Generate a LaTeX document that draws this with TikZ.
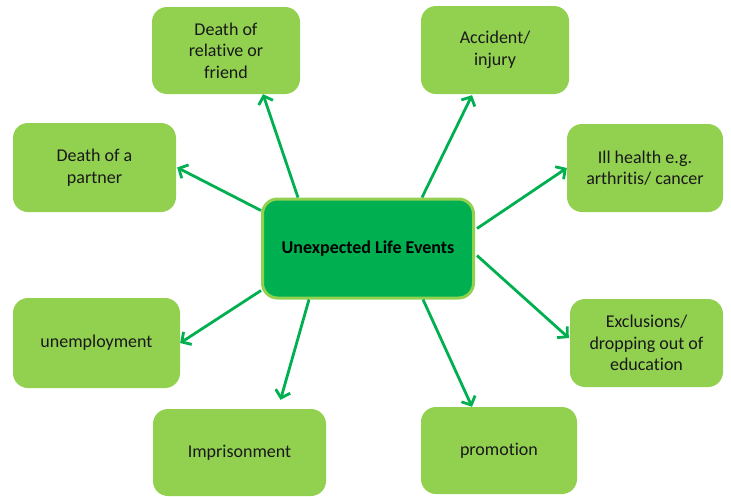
\documentclass[tikz,border=0pt]{standalone}
\usepackage{fontspec}
\setmainfont{Carlito}[Ligatures=NoCommon]
\usetikzlibrary{arrows.meta}
\definecolor{leafgreen}{HTML}{92D050}
\definecolor{hubgreen}{HTML}{00B050}

\begin{document}
\begin{tikzpicture}[x=1pt,y=-1pt]
                        \tikzstyle{event}=[fill=leafgreen, rounded corners=15pt, align=center, font=\fontsize{18}{21.5}\selectfont, text=black!90, inner sep=0pt]
                        \tikzstyle{hub}=[fill=hubgreen, draw=leafgreen, line width=3pt, rounded corners=15pt, font=\fontsize{18}{21.5}\selectfont\bfseries, inner sep=0pt, minimum width=211pt, minimum height=99pt]
                        \tikzstyle{link}=[draw=hubgreen, line width=2.8pt, -{Straight Barb[length=7pt,width=15pt,line width=2.8pt]}]
                        \useasboundingbox (0,0) rectangle (731,496);
                        \node[hub] (ctr) at (368,248.5) {Unexpected Life Events};
                        \node[event, minimum width=148pt, minimum height=87pt] (rel) at (226,50.5) {Death of\\relative or\\friend};
                        \node[event, minimum width=148pt, minimum height=88pt] (acc) at (495,50) {Accident/\\injury};
                        \node[event, minimum width=163pt, minimum height=89pt] (partner) at (94.5,167.5) {Death of a\\partner};
                        \node[event, minimum width=156pt, minimum height=88pt] (ill) at (645,168) {Ill health e.g.\\arthritis/ cancer};
                        \node[event, minimum width=167pt, minimum height=90pt] (unemp) at (96.5,343) {unemployment};
                        \node[event, minimum width=153pt, minimum height=88pt] (excl) at (646.5,343) {Exclusions/\\dropping out of\\education};
                        \node[event, minimum width=173pt, minimum height=87pt] (imp) at (239.5,452.5) {Imprisonment};
                        \node[event, minimum width=156pt, minimum height=87pt] (promo) at (499,450.5) {promotion};
                        \draw[link] ([xshift=-70pt]ctr.north) -- ([xshift=37pt]rel.south);
                        \draw[link] ([xshift=54pt]ctr.north) -- ([xshift=-23pt,yshift=-1pt]acc.south);
                        \draw[link] ([yshift=38pt]ctr.west) -- ([xshift=1pt]partner.east);
                        \draw[link] ([xshift=2pt,yshift=20pt]ctr.east) -- (ill.west);
                        \draw[link] ([yshift=-42pt]ctr.west) -- (unemp.east);
                        \draw[link] ([xshift=2pt,yshift=-7pt]ctr.east) -- ([xshift=-1pt,yshift=5pt]excl.west);
                        \draw[link] ([xshift=-59pt]ctr.south) -- ([xshift=41pt,yshift=9pt]imp.north);
                        \draw[link] ([xshift=55pt]ctr.south) -- ([xshift=-27pt]promo.north);
                    \end{tikzpicture}
\end{document}
